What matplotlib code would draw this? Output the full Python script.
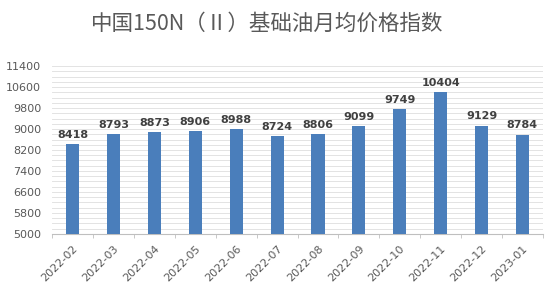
import matplotlib

matplotlib.use("Agg")
import matplotlib.pyplot as plt
from matplotlib.ticker import MultipleLocator, FixedLocator
import numpy as np

months = ["2022-02", "2022-03", "2022-04", "2022-05", "2022-06", "2022-07",
          "2022-08", "2022-09", "2022-10", "2022-11", "2022-12", "2023-01"]
values = [8418, 8793, 8873, 8906, 8988, 8724, 8806, 9099, 9749, 10404, 9129, 8784]
y_ticks = [5000, 5800, 6600, 7400, 8200, 9000, 9800, 10600, 11400]

plt.rcParams["font.family"] = ["Noto Sans CJK SC", "DejaVu Sans"]

fig = plt.figure(figsize=(5.5, 2.95), dpi=100)
ax = fig.add_axes([0.095, 0.207, 0.892, 0.569])

x = np.arange(len(months))
ax.bar(x, values, width=0.32, color="#4a7ebb", zorder=3)

for xi, v in zip(x, values):
    ax.text(xi, v + 170, str(v), ha="center", va="bottom", fontsize=8,
            fontweight="bold", color="#404040", family="DejaVu Sans")

ax.set_xlim(-0.5, len(months) - 0.5)
ax.set_ylim(y_ticks[0], y_ticks[-1])
ax.set_yticks(y_ticks)
ax.yaxis.set_minor_locator(MultipleLocator(200))
ax.grid(axis="y", which="both", color="#e3e3e3", linewidth=0.7, zorder=0)

ax.set_xticks(x)
ax.set_xticklabels(months, rotation=45, ha="right", rotation_mode="anchor",
                   fontsize=8, color="#595959", family="DejaVu Sans")
ax.xaxis.set_minor_locator(FixedLocator(np.arange(-0.5, len(months), 1.0)))
ax.tick_params(axis="x", which="major", length=0, pad=7)
ax.tick_params(axis="x", which="minor", length=3, color="#bfbfbf")
ax.tick_params(axis="y", which="both", length=0, labelsize=8,
               labelcolor="#595959", pad=8)
for lab in ax.get_yticklabels():
    lab.set_family("DejaVu Sans")

for side in ["top", "right", "left"]:
    ax.spines[side].set_visible(False)
ax.spines["bottom"].set_color("#bfbfbf")
ax.spines["bottom"].set_linewidth(0.8)

fig.text(0.485, 0.92, "中国150N（Ⅱ）基础油月均价格指数", ha="center", va="center",
         fontsize=15.5, color="#595959")

fig.savefig("out.png", dpi=100, facecolor="white")
